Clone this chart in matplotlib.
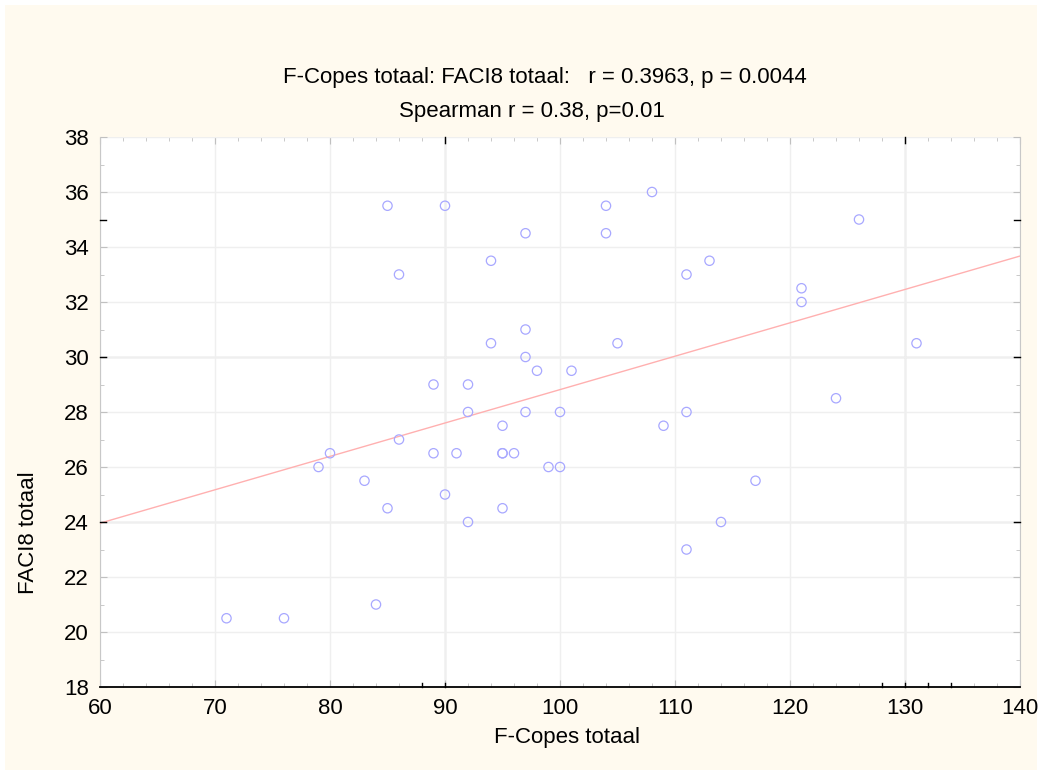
import numpy as np
import matplotlib
matplotlib.use("Agg")
import matplotlib.pyplot as plt
import matplotlib.transforms as mtransforms
from matplotlib.patches import Rectangle

# F-Copes totaal (x) vs FACI8 totaal (y), n = 50
fcopes = [85, 90, 104, 108, 97, 104, 94, 86, 97, 94,
          105, 97, 98, 101, 89, 92, 92, 97, 100, 95,
          126, 113, 111, 121, 121, 131, 124, 111, 109, 71,
          76, 79, 80, 83, 86, 89, 91, 95, 95, 96,
          99, 100, 90, 85, 95, 92, 84, 117, 114, 111]
faci8 = [35.5, 35.5, 35.5, 36, 34.5, 34.5, 33.5, 33, 31, 30.5,
         30.5, 30, 29.5, 29.5, 29, 29, 28, 28, 28, 27.5,
         35, 33.5, 33, 32.5, 32, 30.5, 28.5, 28, 27.5, 20.5,
         20.5, 26, 26.5, 25.5, 27, 26.5, 26.5, 26.5, 26.5, 26.5,
         26, 26, 25, 24.5, 24.5, 24, 21, 25.5, 24, 23]

title1 = "F-Copes totaal: FACI8 totaal:   r = 0.3963, p = 0.0044"
title2 = "Spearman r = 0.38, p=0.01"
xlab = "F-Copes totaal"
ylab = "FACI8 totaal"

plt.rcParams['font.family'] = ['Liberation Sans', 'DejaVu Sans']

W, H = 1041, 774
fig = plt.figure(figsize=(W / 100, H / 100), dpi=100)
fig.patch.set_facecolor('white')
fig.patches.append(Rectangle((5 / W, 4 / H), 1032 / W, 765 / H, transform=fig.transFigure,
                             facecolor='#fffaef', edgecolor='none', zorder=-10))

ax = fig.add_axes([100 / W, 1 - 687 / H, 920 / W, 550 / H])
ax.set_facecolor('white')
ax.set_xlim(60, 140)
ax.set_ylim(18, 38)
ax.set_xticks(np.arange(60, 141, 10))
ax.set_yticks(np.arange(18, 39, 2))
ax.set_xticks(np.arange(60, 141, 2), minor=True)
ax.set_yticks(np.arange(18, 39, 1), minor=True)

ax.tick_params(which='both', direction='in', top=True, right=True, color='#c0c0c0',
               labelsize=16, pad=8)
ax.tick_params(which='major', length=5)
ax.tick_params(which='minor', length=3)

for side in ['left', 'right', 'top']:
    ax.spines[side].set_color('#c8c8c8')
ax.spines['top'].set_visible(False)
ax.spines['bottom'].set_color('black')
ax.spines['bottom'].set_linewidth(1.3)

# faint grid plus the heavier lines
ax.grid(True, which='major', color='#efefef', linewidth=1)
for xv in [90, 130]:
    ax.axvline(xv, color='#cfcfcf', linewidth=1, zorder=1)
for yv in [24, 30]:
    ax.axhline(yv, color='#cfcfcf', linewidth=1, zorder=1)

# black tick stubs
tx = mtransforms.blended_transform_factory(ax.transData, ax.transAxes)
for xv in [88, 90, 128, 130, 132, 134]:
    ax.plot([xv, xv], [0, 0.008], color='black', lw=1, transform=tx, clip_on=False, zorder=5)
for xv in [90, 130]:
    ax.plot([xv, xv], [1, 0.99], color='black', lw=1, transform=tx, clip_on=False, zorder=5)
ty = mtransforms.blended_transform_factory(ax.transAxes, ax.transData)
for yv in [24, 30, 35]:
    ax.plot([0, 0.006], [yv, yv], color='black', lw=1, transform=ty, clip_on=False, zorder=5)
    ax.plot([1, 0.994], [yv, yv], color='black', lw=1, transform=ty, clip_on=False, zorder=5)

# regression line
slope, icpt = np.polyfit(fcopes, faci8, 1)
xs = np.array([60, 140])
ax.plot(xs, icpt + slope * xs, color='#ffb0b0', linewidth=1, zorder=3)

ax.scatter(fcopes, faci8, s=45, facecolors='none', edgecolors='#a8a8ff', linewidths=0.9, zorder=4)

fig.text(545 / W, 1 - 77 / H, title1, ha='center', va='center', fontsize=16)
fig.text(532 / W, 1 - 111 / H, title2, ha='center', va='center', fontsize=16)
fig.text(567 / W, 1 - 737 / H, xlab, ha='center', va='center', fontsize=16)
fig.text(28 / W, 1 - 533 / H, ylab, ha='center', va='center', rotation=90, fontsize=16)

fig.savefig('out.png', dpi=100, facecolor=fig.get_facecolor())
